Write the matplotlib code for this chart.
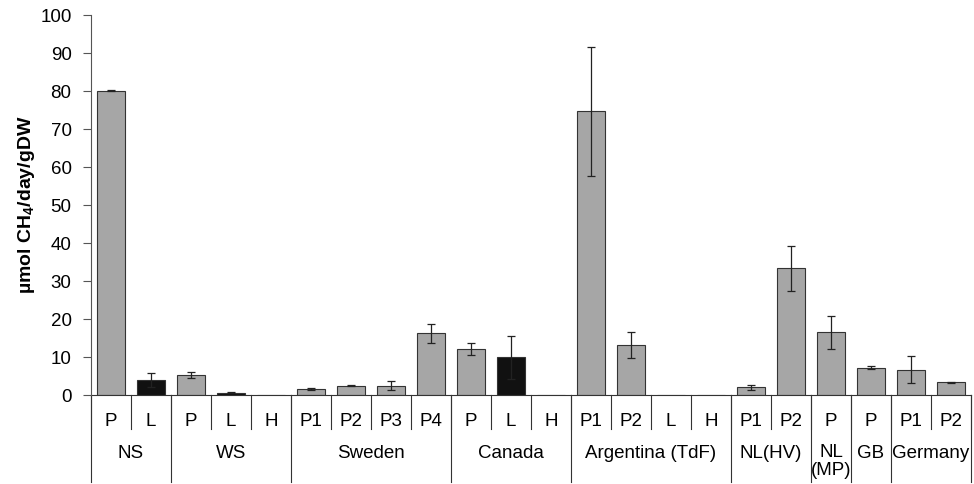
import matplotlib.pyplot as plt
import matplotlib.transforms as mtransforms
import numpy as np

plt.rcParams['font.family'] = ['Liberation Sans', 'DejaVu Sans']
plt.rcParams['mathtext.fontset'] = 'custom'
plt.rcParams['mathtext.rm'] = 'Liberation Sans'
plt.rcParams['mathtext.bf'] = 'Liberation Sans:bold'

# data
groups = ['NS', 'WS', 'Sweden', 'Canada', 'Argentina (TdF)', 'NL(HV)', 'NL\n(MP)', 'GB', 'Germany']
group_sizes = [2, 3, 4, 3, 4, 2, 1, 1, 2]
sites = ['P', 'L', 'P', 'L', 'H', 'P1', 'P2', 'P3', 'P4', 'P', 'L', 'H',
         'P1', 'P2', 'L', 'H', 'P1', 'P2', 'P', 'P', 'P1', 'P2']
values = [80.1, 4.0, 5.3, 0.6, 0.0, 1.5, 2.5, 2.5, 16.2, 12.1, 9.9, 0.0,
          74.7, 13.2, 0.0, 0.0, 2.0, 33.4, 16.5, 7.2, 6.7, 3.3]
errors = [0.2, 1.8, 0.7, 0.2, 0.0, 0.3, 0.2, 1.2, 2.6, 1.7, 5.7, 0.0,
          17.0, 3.4, 0.0, 0.0, 0.7, 5.9, 4.3, 0.4, 3.6, 0.2]

n = len(sites)
x = np.arange(n) + 0.5
colors = ['#111111' if s == 'L' else '#a6a6a6' for s in sites]

fig = plt.figure(figsize=(9.74, 4.84), dpi=100)
ax = fig.add_axes([91 / 974, 1 - 395 / 484, 880 / 974, 380 / 484])

ax.bar(x, values, width=0.7, color=colors, edgecolor='#333333', linewidth=0.8, zorder=2)
mask = np.array(errors) > 0
ax.errorbar(x[mask], np.array(values)[mask], yerr=np.array(errors)[mask], fmt='none',
            ecolor='#222222', elinewidth=0.9, capsize=3, capthick=0.9, zorder=3)

ax.set_xlim(0, n)
ax.set_ylim(0, 100)
ax.set_yticks(np.arange(0, 101, 10))
ax.tick_params(axis='y', direction='out', length=6, width=0.8, color='#555555',
               labelsize=13.5, pad=8)
ax.set_xticks([])
for side in ['top', 'right', 'bottom']:
    ax.spines[side].set_visible(False)
ax.spines['left'].set_color('#555555')
ax.spines['left'].set_linewidth(0.8)

# category table under the axis
trans = mtransforms.blended_transform_factory(ax.transData, ax.transAxes)
row1 = -34 / 380
row2 = -87 / 380
ax.plot([0, n], [0, 0], transform=trans, color='#333333', lw=0.8, clip_on=False)
for i in range(n + 1):
    ax.plot([i, i], [0, row1], transform=trans, color='#333333', lw=0.8, clip_on=False)
edge = 0
for g, size in zip(groups, group_sizes):
    ax.plot([edge, edge], [0, row2], transform=trans, color='#333333', lw=0.8, clip_on=False)
    if '\n' in g:
        ax.text(edge + size / 2, -49 / 380, g, transform=trans, ha='center', va='top',
                fontsize=13.5, linespacing=1.05)
    else:
        ax.text(edge + size / 2, -58 / 380, g, transform=trans, ha='center', va='center',
                fontsize=13.5)
    edge += size
ax.plot([edge, edge], [0, row2], transform=trans, color='#333333', lw=0.8, clip_on=False)
for xi, s in zip(x, sites):
    ax.text(xi, -27 / 380, s, transform=trans, ha='center', va='center', fontsize=13.5)

ax.set_ylabel(r'µmol CH$_\mathbf{4}$/day/gDW', fontsize=14, fontweight='bold', labelpad=2)

fig.savefig('out.png', dpi=100)
